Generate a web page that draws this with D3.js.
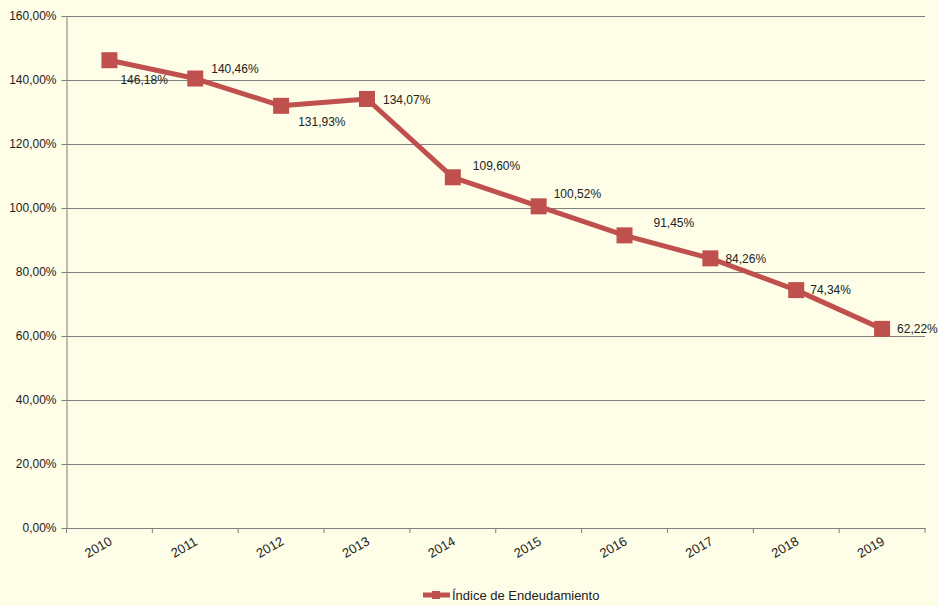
<!DOCTYPE html>
<html><head><meta charset="utf-8">
<script src="https://cdn.jsdelivr.net/npm/d3@7"></script>
<style>
html,body{margin:0;padding:0;background:#FDFDE8;}
svg{display:block;font-family:"Liberation Sans",Arial,sans-serif;}
</style></head>
<body><svg id="c" width="938" height="606"></svg>
<script>
const years = ["2010","2011","2012","2013","2014","2015","2016","2017","2018","2019"];
const values = [146.18,140.46,131.93,134.07,109.60,100.52,91.45,84.26,74.34,62.22];
const valueLabels = ["146,18%","140,46%","131,93%","134,07%","109,60%","100,52%","91,45%","84,26%","74,34%","62,22%"];
const yTicks = [0,20,40,60,80,100,120,140,160];
const seriesName = "Índice de Endeudamiento";
// label offsets (layout)
const labelDx = [11,16,17,16,20,15,29,15,14,15];
const labelDy = [20,-10,16,1,-11,-13,-13,0,0,0];

const svg = d3.select("#c");
const L=66.5, R=925, T=16, B=528;
const x = d3.scaleBand().domain(years).range([L,R]);
const y = d3.scaleLinear().domain([0,160]).range([B,T]);
const color="#C0504D", grid="#7f7f7f";

svg.append("rect").attr("width",938).attr("height",606).attr("fill","#FDFDE8");

// gridlines
svg.append("g").selectAll("line").data(yTicks.slice(1)).join("line")
  .attr("x1",L).attr("x2",R).attr("y1",d=>y(d)+0.5).attr("y2",d=>y(d)+0.5)
  .attr("stroke",grid).attr("stroke-width",1);

// y axis
const fmt = d=>d.toFixed(2).replace(".",",")+"%";
const ya = svg.append("g").attr("transform",`translate(${L},0)`)
  .call(d3.axisLeft(y).tickValues(yTicks).tickFormat(fmt).tickSize(5).tickSizeOuter(0));
ya.select(".domain").attr("stroke",grid);
ya.selectAll(".tick line").attr("stroke",grid);
ya.selectAll("text").attr("font-size",12).attr("fill","#222").attr("font-family","Liberation Sans, Arial, sans-serif").attr("x",-10);

// x axis
const xa = svg.append("g").attr("transform",`translate(0,${B})`)
  .call(d3.axisBottom(x).tickSize(0).tickSizeOuter(0));
xa.select(".domain").attr("stroke",grid);
xa.selectAll(".tick line").remove();
xa.selectAll(".tick text").attr("font-size",13).attr("fill","#222")
  .attr("font-family","Liberation Sans, Arial, sans-serif")
  .attr("text-anchor","middle").attr("y",0).attr("dy",0)
  .attr("transform","translate(-9,23) rotate(-30)");
// boundary ticks
const bounds = years.map(d=>x(d)).concat([R]);
svg.append("g").selectAll("line").data(bounds).join("line")
  .attr("x1",d=>d).attr("x2",d=>d).attr("y1",B).attr("y2",B+5).attr("stroke",grid);

// line
const cx = d=>x(d)+x.bandwidth()/2;
const pts = years.map((d,i)=>[cx(d),y(values[i])]);
svg.append("path").datum(pts).attr("d",d3.line())
  .attr("fill","none").attr("stroke",color).attr("stroke-width",5).attr("stroke-linejoin","round");
svg.append("g").selectAll("rect").data(pts).join("rect")
  .attr("x",d=>d[0]-8).attr("y",d=>d[1]-8).attr("width",16).attr("height",16)
  .attr("fill",color);

// labels
svg.append("g").selectAll("text").data(pts).join("text")
  .attr("x",(d,i)=>d[0]+labelDx[i]).attr("y",(d,i)=>d[1]+labelDy[i])
  .attr("dy","0.35em").attr("font-size",12).attr("fill","#222")
  .text((d,i)=>valueLabels[i]);

// legend
const lg = svg.append("g").attr("transform","translate(423,595)");
lg.append("line").attr("x1",0).attr("x2",27).attr("stroke",color).attr("stroke-width",5);
lg.append("rect").attr("x",9).attr("y",-4).attr("width",8).attr("height",8).attr("fill",color);
lg.append("text").attr("x",29).attr("dy","0.35em").attr("font-size",13).attr("fill","#222").text(seriesName);
</script></body></html>
